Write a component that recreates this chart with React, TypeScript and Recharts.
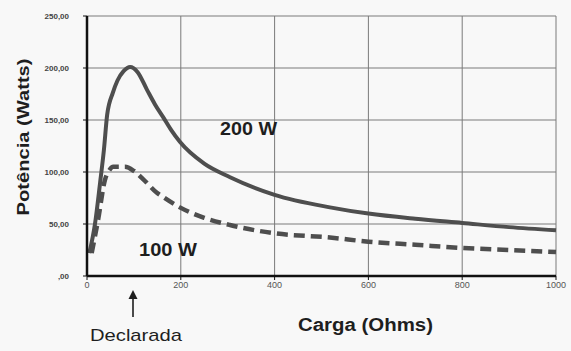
import { CartesianGrid, Customized, Line, LineChart, XAxis, YAxis } from "recharts";

const loadOhms200 = [5, 17, 28, 36, 43, 55, 65, 78, 92, 108, 128, 145, 162, 180, 198, 250, 305, 400, 518, 600, 700, 800, 900, 1000];
const watts200 = [22, 50, 90, 121, 155, 176, 188, 197, 201, 196, 179, 165, 153, 140, 129, 108, 95, 78, 66, 60, 55, 51, 47, 44];

const loadOhms100 = [10, 24, 38, 48, 56, 81, 100, 120, 149, 162, 198, 250, 305, 401, 518, 600, 700, 800, 900, 1000];
const watts100 = [22, 55, 92, 102, 105, 105, 101, 93, 80, 76, 66, 56, 49, 41, 37, 33, 30, 27, 25, 23];

const xTicks = [0, 200, 400, 600, 800, 1000];
const yTicks = [0, 50, 100, 150, 200, 250];

const curve200 = loadOhms200.map((x, i) => ({ x, y: watts200[i] }));
const curve100 = loadOhms100.map((x, i) => ({ x, y: watts100[i] }));

const fmtY = (v: number) => (v === 0 ? ",00" : v.toFixed(2).replace(".", ","));

const FONT = "Liberation Sans, Arial, sans-serif";

// texts and arrow drawn on top of the chart
function Notes() {
  return (
    <g fontFamily={FONT} fill="#1e1e1e">
      <text
        transform="translate(29,137) rotate(-90)"
        fontSize={17}
        fontWeight="bold"
        textAnchor="middle"
        textLength={157}
        lengthAdjust="spacingAndGlyphs"
      >
        Potência (Watts)
      </text>
      <text x={298} y={331} fontSize={18} fontWeight="bold" textLength={135} lengthAdjust="spacingAndGlyphs">
        Carga (Ohms)
      </text>
      <text x={220} y={135} fontSize={19} fontWeight="bold" textLength={57} lengthAdjust="spacingAndGlyphs">
        200 W
      </text>
      <text x={139} y={256} fontSize={19} fontWeight="bold" textLength={58} lengthAdjust="spacingAndGlyphs">
        100 W
      </text>
      <line x1={133} y1={317} x2={133} y2={295} stroke="#1e1e1e" strokeWidth={1.6} />
      <path d="M128.5,299 L133,290 L137.5,299 Z" fill="#1e1e1e" />
      <text x={90} y={341} fontSize={17} textLength={92} lengthAdjust="spacingAndGlyphs">
        Declarada
      </text>
    </g>
  );
}

export default function App() {
  return (
    <div style={{ position: "absolute", left: 0, top: 0, background: "#f8f8f8" }}>
      <LineChart width={571} height={351} margin={{ top: 16, right: 15, left: 0, bottom: 0 }}>
        <CartesianGrid stroke="#7a7a7a" strokeWidth={1} />
        <XAxis
          type="number"
          dataKey="x"
          domain={[0, 1000]}
          ticks={xTicks}
          height={75}
          tickSize={4}
          axisLine={{ stroke: "#111", strokeWidth: 2.5 }}
          tickLine={{ stroke: "#111" }}
          tick={{ fill: "#555", fontSize: 9, fontFamily: FONT }}
          allowDuplicatedCategory={false}
        />
        <YAxis
          type="number"
          domain={[0, 250]}
          ticks={yTicks}
          width={87}
          tickSize={4}
          tickFormatter={fmtY}
          axisLine={{ stroke: "#111", strokeWidth: 2.5 }}
          tickLine={{ stroke: "#111" }}
          tick={{ fill: "#444", fontSize: 8, fontWeight: "bold", fontFamily: FONT, dx: -12 }}
        />
        <Line
          data={curve200}
          dataKey="y"
          type="monotone"
          stroke="#4e4e4e"
          strokeWidth={4}
          dot={false}
          isAnimationActive={false}
        />
        <Line
          data={curve100}
          dataKey="y"
          type="monotone"
          stroke="#4e4e4e"
          strokeWidth={4.5}
          strokeDasharray="11 6"
          dot={false}
          isAnimationActive={false}
        />
        <Customized component={Notes} />
      </LineChart>
    </div>
  );
}
